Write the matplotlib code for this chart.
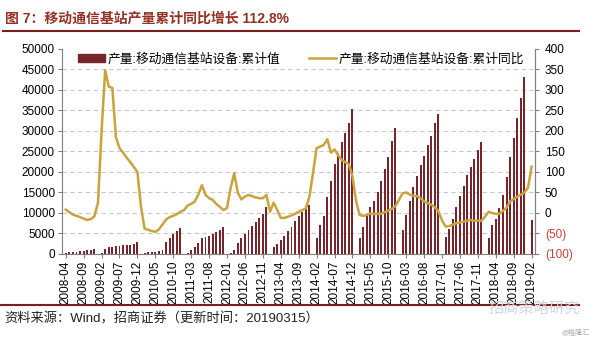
import numpy as np
import matplotlib
matplotlib.use("Agg")
import matplotlib.pyplot as plt
from matplotlib.lines import Line2D
from matplotlib.patches import Patch

plt.rcParams['font.family'] = ['Liberation Sans', 'Noto Sans CJK SC', 'DejaVu Sans']
plt.rcParams['axes.unicode_minus'] = False

# months 2008-04 .. 2019-02
months = [f"{y}-{m:02d}" for y in range(2008, 2020) for m in range(1, 13)]
months = months[months.index("2008-04"):months.index("2019-02") + 1]

# cumulative output (units), Jan not published
prod_2008 = [300, 400, 500, 600, 700, 800, 900, 1000, 1200]            # Apr-Dec
prod_2009 = [300, 1300, 1600, 1800, 1900, 2000, 2100, 2200, 2300, 2500, 2800]
prod_2010 = [200, 400, 500, 600, 700, 900, 3000, 4000, 4900, 5600, 6400]
prod_2011 = [300, 1000, 1800, 2600, 3800, 4200, 4500, 4900, 5400, 5900, 6500]
prod_2012 = [300, 1000, 2600, 3800, 4800, 5900, 6900, 7700, 8700, 9700, 11500]
prod_2013 = [1600, 2400, 3400, 4400, 5600, 6700, 8100, 9300, 10300, 11200, 12000]
prod_2014 = [4000, 7000, 9300, 13800, 17900, 21900, 24600, 27200, 29400, 31900, 35400]
prod_2015 = [3800, 6500, 9300, 11500, 12800, 15200, 17900, 20700, 23700, 27600, 30700]
prod_2016 = [5800, 9500, 12900, 16300, 19000, 21600, 23900, 26600, 28800, 31900, 34200]
prod_2017 = [4200, 6000, 8500, 11400, 14200, 16700, 19300, 21300, 23200, 25400, 27200]
prod_2018 = [4000, 7000, 8500, 11200, 14400, 18700, 23700, 28200, 33100, 38000, 43200]
prod_2019 = [8300]

# cumulative YoY (%)
yoy = [8, 2, -4, -7, -10, -14, -17, -15, -8,
       25, 200, 348, 308, 305, 185, 158, 147, 135, 124, 112, 100,
       15, -38, -41, -44, -46, -40, -28, -16, -10, -7, -3, 3,
       7, 18, 22, 28, 45, 68, 44, 36, 32, 22, 15, 7,
       12, 60, 97, 50, 33, 40, 44, 41, 38, 36, 36, 44,
       3, 25, 8, -12, -12, -9, -6, -2, 3, 7, 11, 40,
       97, 158, 162, 166, 180, 147, 155, 141, 129, 124, 119, 90,
       30, -5, -7, -5, -1, -2, -2, -2, 2, 6, 10, 17,
       32, 48, 50, 45, 42, 41, 36, 28, 24, 20, 14, 4,
       -18, -33, -32, -28, -25, -23, -21, -19, -17, -19, -19, -19,
       -9, 3, 0, -2, -2, 5, 13, 28, 34, 40, 45, 50,
       62, 112.8]

nan = np.nan
production = (prod_2008
              + [nan] + prod_2009 + [nan] + prod_2010 + [nan] + prod_2011
              + [nan] + prod_2012 + [nan] + prod_2013 + [nan] + prod_2014
              + [nan] + prod_2015 + [nan] + prod_2016 + [nan] + prod_2017
              + [nan] + prod_2018 + [nan] + prod_2019)

bar_color = '#76262B'
line_color = '#C9A43E'
title_color = '#943124'
red_neg = '#C8403A'

fig = plt.figure(figsize=(6, 3.4), dpi=100)
ax = fig.add_axes([0.103, 0.253, 0.789, 0.603])
x = np.arange(len(months))

ax.bar(x, production, width=0.55, color=bar_color, zorder=2)
ax.set_ylim(0, 50000)
ax.set_yticks(np.arange(0, 50001, 5000))
ax.set_yticklabels([str(v) for v in range(0, 50001, 5000)], fontsize=8.5)
ax.set_xlim(-1.1, 131)
ax.set_xticks(x[::5])
ax.set_xticklabels(months[::5], rotation=90, fontsize=8.5)
for v in range(5000, 50000, 5000):
    ax.axhline(v, color='#C8C8C8', linestyle=(0, (4, 3)), linewidth=0.8, zorder=0)
ax.spines['top'].set_visible(False)
for s in ['left', 'bottom', 'right']:
    ax.spines[s].set_color('#808080')
ax.tick_params(axis='both', length=3, color='#808080', pad=2)

ax2 = ax.twinx()
ax2.plot(x, yoy, color=line_color, linewidth=1.8, zorder=3)
ax2.set_ylim(-100, 400)
rt = np.arange(-100, 401, 50)
ax2.set_yticks(rt)
ax2.set_yticklabels([f"({-v})" if v < 0 else str(v) for v in rt], fontsize=8.5)
for lbl, v in zip(ax2.get_yticklabels(), rt):
    if v < 0:
        lbl.set_color(red_neg)
for s in ['top', 'left', 'bottom']:
    ax2.spines[s].set_visible(False)
ax2.spines['right'].set_color('#808080')
ax2.tick_params(axis='y', length=3, color='#808080', pad=4)

h1 = Patch(facecolor=bar_color, edgecolor=bar_color)
h2 = Line2D([0], [0], color=line_color, linewidth=1.8)
ax2.legend([h1, h2], ['产量:移动通信基站设备:累计值', '产量:移动通信基站设备:累计同比'],
           ncol=2, loc='upper left', bbox_to_anchor=(0.01, 1.035), frameon=False,
           fontsize=9.2, columnspacing=2.2, handlelength=2.1, handleheight=0.5,
           handletextpad=0.25)

fig.text(0.008, 0.945, '图 7：移动通信基站产量累计同比增长 112.8%', fontsize=10,
         fontweight='bold', color=title_color, va='center', ha='left')
fig.add_artist(Line2D([0.005, 0.965], [0.908, 0.908], color='#7A1F1F', linewidth=1.5))
fig.add_artist(Line2D([0.0, 0.965], [0.103, 0.103], color='#7A1F1F', linewidth=1.5))
fig.text(0.008, 0.062, '资料来源：Wind，招商证券（更新时间：20190315）', fontsize=9.5,
         color='#222222', va='center', ha='left')
fig.text(0.815, 0.092, '招商策略研究', fontsize=11, color='#D0D6DE', va='center', ha='left')
fig.text(0.935, 0.02, '@格隆汇', fontsize=5, color='#AAAAAA', va='center', ha='left')

fig.savefig('out.png', dpi=100)
